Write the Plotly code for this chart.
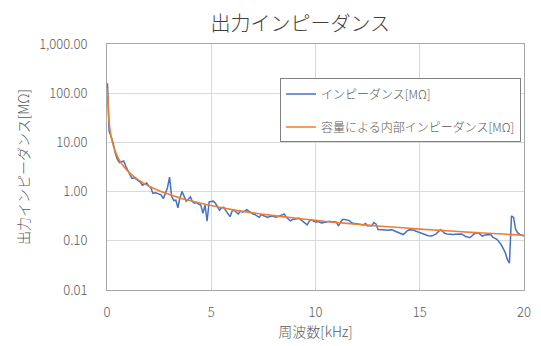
import numpy as np
import plotly.graph_objects as go

# Frequency grid of the measurement [kHz]
freq_khz = np.round(np.concatenate([[0.02], np.arange(1, 201) * 0.1]), 2)

# Measured output impedance [MΩ]
impedance_mohm = [
    160,
    17, 13, 9.5, 6.0, 4.5, 3.9, 4.0, 4.2, 3.3, 2.6,
    2.2, 1.85, 1.9, 1.8, 1.65, 1.55, 1.35, 1.45, 1.5, 1.3,
    1.2, 0.92, 0.95, 0.93, 0.9, 0.85, 0.72, 0.97, 1.2, 1.97,
    0.8, 0.66, 0.67, 0.47, 0.75, 1.0, 0.78, 0.64, 0.7, 0.78,
    0.62, 0.58, 0.6, 0.55, 0.53, 0.36, 0.53, 0.25, 0.62, 0.63,
    0.64, 0.58, 0.5, 0.42, 0.47, 0.48, 0.41, 0.36, 0.31, 0.4,
    0.42, 0.38, 0.35, 0.4, 0.38, 0.4, 0.43, 0.4, 0.37, 0.35,
    0.34, 0.32, 0.3, 0.34, 0.33, 0.31, 0.3, 0.31, 0.32, 0.31,
    0.3, 0.31, 0.32, 0.33, 0.35, 0.3, 0.27, 0.255, 0.27, 0.28,
    0.28, 0.29, 0.27, 0.25, 0.23, 0.21, 0.25, 0.27, 0.25, 0.24,
    0.245, 0.24, 0.23, 0.235, 0.24, 0.245, 0.25, 0.24, 0.245, 0.24,
    0.2, 0.24, 0.27, 0.27, 0.265, 0.26, 0.24, 0.225, 0.225, 0.22,
    0.22, 0.21, 0.21, 0.225, 0.2, 0.205, 0.2, 0.235, 0.22, 0.17,
    0.168, 0.166, 0.165, 0.165, 0.164, 0.168, 0.166, 0.158, 0.152, 0.145,
    0.137, 0.134, 0.145, 0.16, 0.167, 0.168, 0.165, 0.158, 0.152, 0.145,
    0.138, 0.134, 0.13, 0.127, 0.125, 0.126, 0.132, 0.14, 0.155, 0.168,
    0.155, 0.142, 0.138, 0.136, 0.135, 0.135, 0.136, 0.137, 0.138, 0.138,
    0.13, 0.122, 0.12, 0.116, 0.125, 0.138, 0.142, 0.147, 0.135, 0.125,
    0.13, 0.132, 0.134, 0.135, 0.118, 0.112, 0.107, 0.095, 0.084, 0.07,
    0.058, 0.042, 0.035, 0.32, 0.3, 0.17, 0.145, 0.135, 0.128, 0.125,
]

# Internal impedance due to the capacitance [MΩ]
cap_freq_khz = [0.02, 0.1, 0.2, 0.3, 0.4, 0.5, 0.6, 0.7, 0.8, 0.9, 1.0,
                1.25, 1.5, 1.75, 2.0, 2.5, 3.0, 3.5, 4.0, 4.5, 5.0, 6.0,
                7.0, 8.0, 9.0, 10.0, 11.0, 12.0, 13.0, 14.0, 15.0, 16.0,
                17.0, 18.0, 19.0, 20.0]
cap_impedance_mohm = [126, 26, 13, 8.7, 6.5, 5.2, 4.3, 3.7, 3.25, 2.9, 2.6,
                      2.08, 1.73, 1.49, 1.3, 1.04, 0.87, 0.74, 0.65, 0.58, 0.52, 0.43,
                      0.37, 0.325, 0.29, 0.26, 0.236, 0.217, 0.2, 0.186, 0.173, 0.163,
                      0.153, 0.144, 0.137, 0.13]

y_tickvals = [0.01, 0.1, 1, 10, 100, 1000]
y_ticktext = ["0.01", "0.10", "1.00", "10.00", "100.00", "1,000.00"]
x_tickvals = [0, 5, 10, 15, 20]

FONT = "Noto Sans CJK JP"
GREY = "#595959"

fig = go.Figure()
fig.add_trace(go.Scatter(
    x=freq_khz, y=impedance_mohm, mode="lines",
    name="インピーダンス[MΩ]", legendgroup="a",
    line=dict(color="#4472C4", width=1.5),
))
fig.add_trace(go.Scatter(
    x=cap_freq_khz, y=cap_impedance_mohm, mode="lines",
    name="容量による内部インピーダンス[MΩ]", legendgroup="b",
    line=dict(color="#ED7D31", width=1.6, shape="spline", smoothing=0.6),
))

axis_common = dict(
    showline=True, linecolor="#A6A6A6", linewidth=1, mirror=True,
    showgrid=True, gridcolor="#D9D9D9", gridwidth=1,
    zeroline=False, ticks="",
    tickfont=dict(family=FONT, size=13, color=GREY, weight=300),
)

fig.update_xaxes(
    range=[0, 20], tickvals=x_tickvals, ticktext=[str(v) for v in x_tickvals],
    title=dict(text="周波数[kHz]", font=dict(family=FONT, size=14, color=GREY, weight=300), standoff=6),
    ticklabelstandoff=10,
    **axis_common,
)
fig.update_yaxes(
    type="log", range=[-2, 3], tickvals=y_tickvals, ticktext=y_ticktext,
    title=dict(text="出力インピーダンス[MΩ]", font=dict(family=FONT, size=14, color=GREY, weight=300), standoff=6),
    ticklabelstandoff=16,
    **axis_common,
)

fig.update_layout(
    width=541, height=346,
    margin=dict(l=107, r=10, t=44, b=52),
    paper_bgcolor="white", plot_bgcolor="white",
    title=dict(text="出力インピーダンス", x=0.555, xanchor="center", y=0.93, yanchor="middle",
               font=dict(family=FONT, size=20, color="#404040", weight=300)),
    legend=dict(
        x=0.415, y=0.86, xanchor="left", yanchor="top",
        bgcolor="white", bordercolor="#808080", borderwidth=1,
        font=dict(family=FONT, size=12, color=GREY, weight=300),
        tracegroupgap=14,
    ),
    showlegend=True,
)

fig.write_html("out.html")
